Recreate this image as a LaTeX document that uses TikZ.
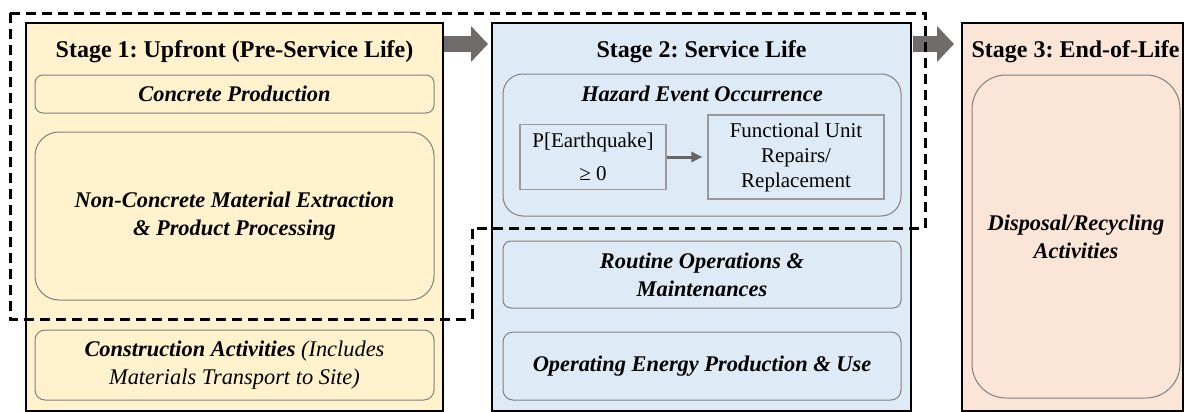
\documentclass[tikz,border=0pt]{standalone}
\usepackage{fontspec}
\setmainfont{Liberation Serif}
\usetikzlibrary{positioning,calc,arrows.meta}
\frenchspacing

\definecolor{stageone}{HTML}{FFF2CC}
\definecolor{stagetwo}{HTML}{DEEBF7}
\definecolor{stagethree}{HTML}{FBE5D6}
\definecolor{arrowgray}{HTML}{6F6B6B}

\tikzset{
    stage/.style={draw=black, line width=1pt, inner sep=0pt},
    stagetitle/.style={anchor=base, font=\fontsize{12}{14}\selectfont\bfseries},
    activity/.style={draw=gray, line width=0.5pt, align=center, inner sep=0pt,
        font=\fontsize{11.2}{14}\selectfont\bfseries\itshape},
    plainbox/.style={draw=gray!80, line width=0.6pt, align=center, inner sep=0pt,
        font=\fontsize{10.5}{12.5}\selectfont},
    flowarrow/.style={draw=arrowgray, line width=8pt, -{Triangle[length=8.5pt,width=17.5pt]}},
    steparrow/.style={draw=gray!80!black, line width=1.5pt, shorten >=2.5pt,
        -{Triangle[length=5.5pt,width=5pt]}},
    fenceline/.style={draw=black, line width=1.5pt, dash pattern=on 5pt off 3pt}
}

\begin{document}
\begin{tikzpicture}[x=0.5pt, y=-0.5pt]
    \useasboundingbox (0,0) rectangle (1184,412);

    % the three stages
    \node (S1) [stage, fill=stageone, minimum width=208.5pt, minimum height=194pt] at (234.5,217) {};
    \node (S2) [stage, fill=stagetwo, minimum width=209.5pt, minimum height=194pt] at (701.5,217) {};
    \node (S3) [stage, fill=stagethree, minimum width=110.5pt, minimum height=194pt] at (1072.5,217) {};
    \node (T1) [stagetitle] at (234.5,57) {Stage 1: Upfront (Pre-Service Life)};
    \node (T2) [stagetitle] at (701.5,57) {Stage 2: Service Life};
    \node (T3) [stagetitle] at (1075.5,57) {Stage 3: End-of-Life};

    % stage 1
    \node (CP) [activity, rounded corners=4pt, minimum width=199.5pt, minimum height=19pt] at (234.5,94) {Concrete Production};
    \node (NC) [activity, rounded corners=12pt, minimum width=199.5pt, minimum height=84pt] at (234.5,216)
        {Non-Concrete Material Extraction\\\& Product Processing};
    \node (CA) [activity, rounded corners=5pt, minimum width=199.5pt, minimum height=35pt] at (234.5,365)
        {Construction Activities {\mdseries (Includes}\\{\mdseries Materials Transport to Site)}};

    % stage 2
    \node (HE) [activity, rounded corners=10pt, minimum width=199pt, minimum height=71pt] at (702,145) {};
    \node (HT) [activity, draw=none, anchor=base] at (702,101) {Hazard Event Occurrence};
    \node (PE) [plainbox, minimum width=73pt, minimum height=32.5pt] at (593,157) {P[Earthquake]\\[4pt]≥ 0};
    \node (FU) [plainbox, minimum width=88pt, minimum height=42pt] at (796,157) {Functional Unit\\Repairs/\\Replacement};
    \node (RO) [activity, rounded corners=4pt, minimum width=199pt, minimum height=33.5pt] at (702,274.5)
        {Routine Operations \&\\Maintenances};
    \node (OE) [activity, rounded corners=5pt, minimum width=199pt, minimum height=34pt] at (702,366)
        {Operating Energy Production \& Use};

    % stage 3
    \node (DR) [activity, rounded corners=17pt, minimum width=104pt, minimum height=161.5pt] at (1076,236.5)
        {Disposal/Recycling\\Activities};

    % arrows
    \draw [steparrow] (PE) -- (FU);
    \draw [flowarrow] ($(S1.north east)+(0,22)$) -- ($(S2.north west)+(-3,22)$);
    \draw [flowarrow] ($(S2.north east)+(1,22)$) -- ($(S3.north west)+(-7,22)$);

    % dashed outline
    \draw [fenceline] (10,13) -- (925,13) -- (925,228) -- (472,228) -- (472,319) -- (10,319) -- cycle;
\end{tikzpicture}
\end{document}
